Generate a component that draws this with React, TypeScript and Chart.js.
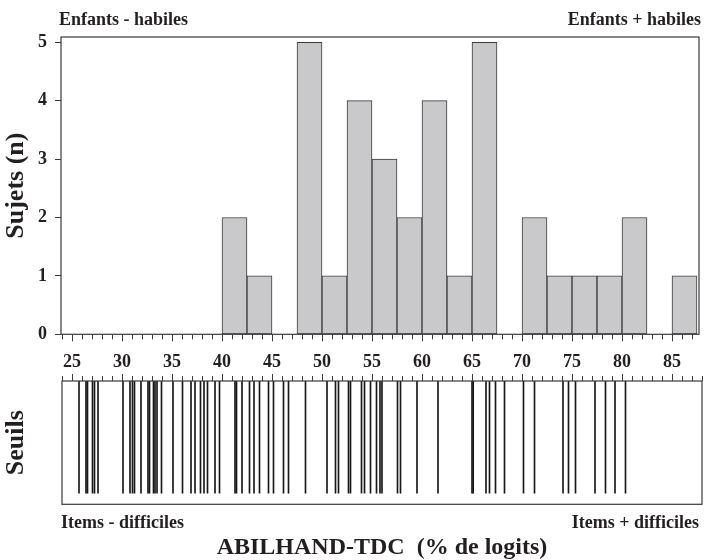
import React, { useEffect, useRef } from 'react';
import { Chart, registerables } from 'chart.js';

Chart.register(...registerables);

// ---------- data ----------
const BIN_WIDTH = 2.5;
const binStarts = [40, 42.5, 47.5, 50, 52.5, 55, 57.5, 60, 62.5, 65, 70, 72.5, 75, 77.5, 80, 85];
const subjectCounts = [2, 1, 5, 1, 4, 3, 2, 4, 1, 5, 2, 1, 1, 1, 2, 1];

const thresholds = [
  25.7, 26.4, 26.55, 27.05, 27.25, 27.6,
  30.1, 30.8, 31.05, 31.25, 31.9, 32.6, 32.75, 33.15, 33.3, 33.5, 33.95,
  35.1, 36.05, 36.9, 37.3, 37.85, 38.2, 38.55, 39.3, 39.75,
  41.3, 41.45, 42.0, 42.75, 43.2, 43.75, 44.65, 45.15, 46.15, 46.65, 48.35,
  50.5, 51.35, 51.65, 52.65, 52.85, 53.95, 54.25, 54.85, 55.45, 55.8, 56.0,
  57.55, 57.85, 59.5, 61.6, 65.0, 65.12, 66.4, 66.75, 67.35, 68.25, 70.15, 71.25,
  74.1, 74.65, 75.35, 77.3, 78.35, 79.3, 80.35,
];

const xMajorStep = 5;
const yStep = 1;

const TITLE_TOP_LEFT = 'Enfants - habiles';
const TITLE_TOP_RIGHT = 'Enfants + habiles';
const TITLE_BOTTOM_LEFT = 'Items - difficiles';
const TITLE_BOTTOM_RIGHT = 'Items + difficiles';
const Y_TITLE_TOP = 'Sujets (n)';
const Y_TITLE_BOTTOM = 'Seuils';
const X_TITLE = 'ABILHAND-TDC  (% de logits)';

// ---------- styles ----------
const FONT = "'Liberation Serif', 'Times New Roman', Times, serif";
const INK = '#231f20';
const FRAME = '#3a3a3a';

function frameTicksPlugin(side: 'bottom' | 'top') {
  return {
    id: 'frameTicks_' + side,
    afterDraw(chart: any) {
      const { ctx, chartArea: a } = chart;
      const x = chart.scales.x;
      ctx.save();
      ctx.strokeStyle = FRAME;
      ctx.lineWidth = 1.2;
      ctx.strokeRect(a.left, a.top, a.right - a.left, a.bottom - a.top);
      ctx.lineWidth = 1;
      ctx.beginPath();
      for (let v = Math.ceil(x.min); v <= Math.floor(x.max); v++) {
        const px = Math.round(x.getPixelForValue(v)) + 0.5;
        const len = v % xMajorStep === 0 ? 7 : 5;
        if (side === 'bottom') {
          ctx.moveTo(px, a.bottom);
          ctx.lineTo(px, a.bottom + len);
        } else {
          ctx.moveTo(px, a.top);
          ctx.lineTo(px, a.top - len);
        }
      }
      ctx.stroke();
      ctx.restore();
    },
  };
}

export default function App() {
  const topRef = useRef<HTMLCanvasElement>(null);
  const botRef = useRef<HTMLCanvasElement>(null);

  useEffect(() => {
    Chart.defaults.font.family = FONT;
    Chart.defaults.color = INK;

    const top = new Chart(topRef.current as HTMLCanvasElement, {
      type: 'bar',
      data: {
        datasets: [
          {
            data: binStarts.map((s, i) => ({ x: s + BIN_WIDTH / 2, y: subjectCounts[i] })),
            backgroundColor: '#c9c9cb',
            borderColor: FRAME,
            borderWidth: 1,
            borderSkipped: false,
            categoryPercentage: 1,
            barPercentage: 1,
          } as any,
        ],
      },
      options: {
        animation: false,
        responsive: false,
        devicePixelRatio: 1,
        layout: { padding: { left: 0, top: 37, right: 6, bottom: 5.7 } },
        plugins: { legend: { display: false }, tooltip: { enabled: false } },
        scales: {
          x: {
            type: 'linear',
            min: 23.9,
            max: 87.7,
            offset: false,
            grid: { display: false, drawTicks: false },
            border: { display: false },
            ticks: {
              stepSize: xMajorStep,
              includeBounds: false,
              padding: 17,
              color: INK,
              maxRotation: 0,
              autoSkip: false,
              font: { size: 18, weight: 'bold', family: FONT },
            },
            afterFit: (s: any) => { s.height = 40; },
          },
          y: {
            min: 0,
            max: 5.09,
            grid: { display: true, drawOnChartArea: false, drawTicks: true, tickLength: 6, color: FRAME, offset: false },
            border: { display: false },
            ticks: {
              stepSize: yStep,
              includeBounds: false,
              padding: 8,
              color: INK,
              font: { size: 18, weight: 'bold', family: FONT },
            },
            title: {
              display: true,
              text: Y_TITLE_TOP,
              color: INK,
              font: { size: 26, weight: 'bold', family: FONT, lineHeight: 1 },
              padding: { top: 3, bottom: 0 },
            },
            afterFit: (s: any) => { s.width = 61; },
          },
        },
      } as any,
      plugins: [frameTicksPlugin('bottom')],
    });

    const bot = new Chart(botRef.current as HTMLCanvasElement, {
      type: 'bar',
      data: {
        datasets: [
          {
            data: thresholds.map((t) => ({ x: t, y: [0.09, 1] })),
            backgroundColor: '#181818',
            borderWidth: 0,
            barThickness: 1,
          } as any,
        ],
      },
      options: {
        animation: false,
        responsive: false,
        devicePixelRatio: 1,
        layout: { padding: { left: 0, top: 21, right: 3, bottom: 0 } },
        plugins: { legend: { display: false }, tooltip: { enabled: false } },
        scales: {
          x: {
            type: 'linear',
            min: 24,
            max: 88,
            offset: false,
            grid: { display: false, drawTicks: false },
            border: { display: false },
            ticks: { display: false, stepSize: xMajorStep },
            title: {
              display: true,
              text: X_TITLE,
              color: INK,
              font: { size: 24, weight: 'bold', family: FONT, lineHeight: 1 },
              padding: { top: 0, bottom: 0 },
            },
            afterFit: (s: any) => { s.height = 55.7; },
          },
          y: {
            min: 0,
            max: 1,
            grid: { display: false, drawTicks: false },
            border: { display: false },
            ticks: { display: false },
            title: {
              display: true,
              text: Y_TITLE_BOTTOM,
              color: INK,
              font: { size: 26, weight: 'bold', family: FONT, lineHeight: 1 },
              padding: { top: 3, bottom: 0 },
            },
            afterFit: (s: any) => { s.width = 62; },
          },
        },
      } as any,
      plugins: [frameTicksPlugin('top')],
    });

    return () => {
      top.destroy();
      bot.destroy();
    };
  }, []);

  const label: React.CSSProperties = {
    position: 'absolute',
    fontFamily: FONT,
    fontWeight: 'bold',
    fontSize: 18,
    lineHeight: '18px',
    color: INK,
    whiteSpace: 'pre',
  };

  return (
    <div style={{ position: 'absolute', left: 0, top: 0, width: 705, height: 560, background: '#fff', overflow: 'hidden' }}>
      <canvas ref={topRef} width={705} height={380} style={{ position: 'absolute', left: 0, top: 0, display: 'block' }} />
      <canvas ref={botRef} width={705} height={200} style={{ position: 'absolute', left: 0, top: 360, display: 'block' }} />
      <span style={{ ...label, left: 59, top: 10 }}>{TITLE_TOP_LEFT}</span>
      <span style={{ ...label, right: 4, top: 10 }}>{TITLE_TOP_RIGHT}</span>
      <span style={{ ...label, left: 61, top: 513 }}>{TITLE_BOTTOM_LEFT}</span>
      <span style={{ ...label, right: 6, top: 513 }}>{TITLE_BOTTOM_RIGHT}</span>
    </div>
  );
}
